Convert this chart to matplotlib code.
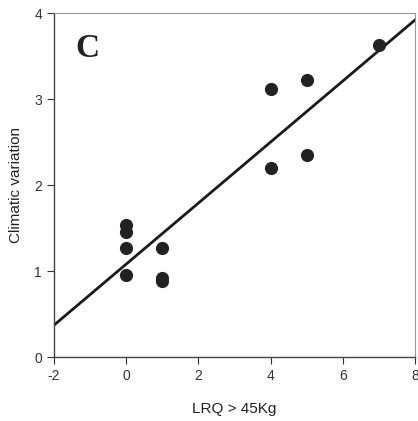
import numpy as np
import matplotlib
matplotlib.use('Agg')
import matplotlib.pyplot as plt

plt.rcParams['font.family'] = ['Liberation Sans', 'DejaVu Sans']
plt.rcParams['axes.unicode_minus'] = False

# data
lrq = [0, 0, 0, 0, 1, 1, 1, 4, 5, 4, 5, 7]
clim = [1.53, 1.45, 1.27, 0.95, 1.27, 0.92, 0.88, 3.12, 3.22, 2.2, 2.35, 3.63]
fit_slope = 0.355
fit_icept = 1.08
xticks = [-2, 0, 2, 4, 6, 8]
yticks = [0, 1, 2, 3, 4]

fig = plt.figure(figsize=(4.18, 4.21), dpi=100)
ax = fig.add_axes([0.129, 0.152, 0.864, 0.817])

ax.scatter(lrq, clim, s=90, color='#222222', zorder=3, linewidths=0)
xs = np.array([-2, 8])
ax.plot(xs, fit_slope * xs + fit_icept, color='#1a1a1a', lw=2)

ax.set_xlim(-2, 8)
ax.set_ylim(0, 4)
ax.set_xticks(xticks)
ax.set_yticks(yticks)
ax.tick_params(direction='out', length=5, width=0.8, labelsize=10, colors='#333333')
for s in ['left', 'bottom']:
    ax.spines[s].set_color('#444444')
    ax.spines[s].set_linewidth(1.0)
for s in ['top', 'right']:
    ax.spines[s].set_color('#999999')
    ax.spines[s].set_linewidth(0.8)

ax.set_xlabel('LRQ > 45Kg', fontsize=11, labelpad=14, color='#222222')
ax.set_ylabel('Climatic variation', fontsize=11, labelpad=8, color='#222222')
ax.text(0.094, 0.898, 'C', transform=ax.transAxes, fontsize=24, fontweight='bold',
        family='Liberation Serif', ha='center', va='center', color='#222222')

fig.savefig('out.png', dpi=100)
